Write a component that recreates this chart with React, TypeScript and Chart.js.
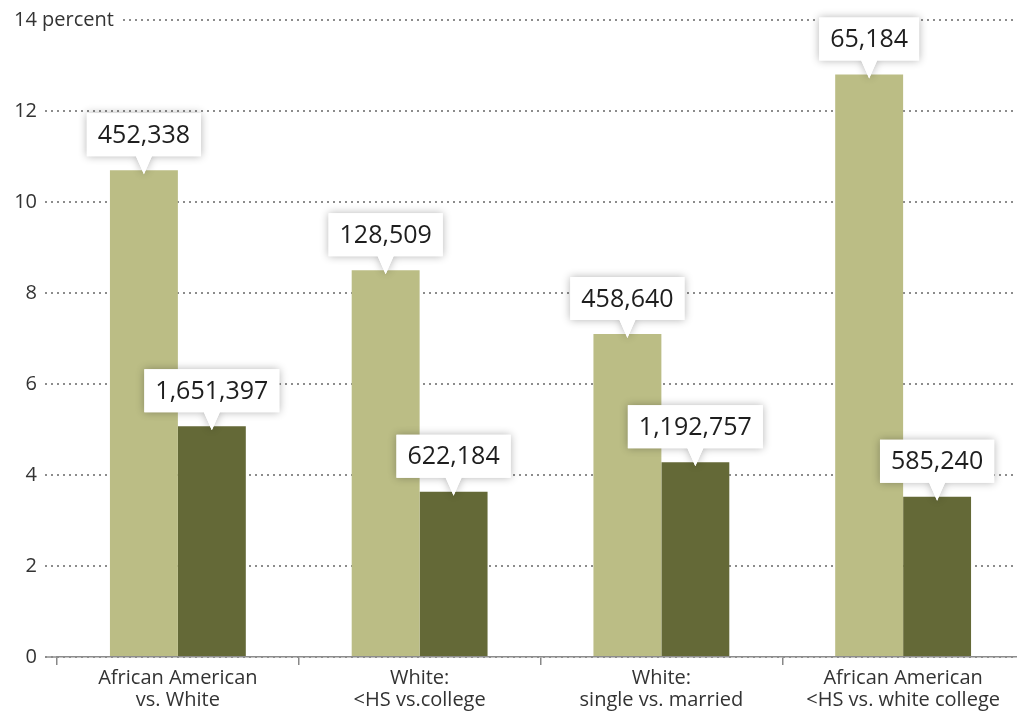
import React, { useEffect, useRef } from "react";
import { Chart, registerables } from "chart.js";

Chart.register(...registerables);

const categories: string[][] = [
  ["African American", "vs. White"],
  ["White:", "<HS vs.college"],
  ["White:", "single vs. married"],
  ["African American", "<HS vs. white college"],
];
const seriesA: number[] = [10.7, 8.5, 7.1, 12.8];
const seriesB: number[] = [5.07, 3.63, 4.28, 3.52];
const countsA: string[] = ["452,338", "128,509", "458,640", "65,184"];
const countsB: string[] = ["1,651,397", "622,184", "1,192,757", "585,240"];
const yTicks: number[] = [0, 2, 4, 6, 8, 10, 12, 14];
const topTickLabel = "14 percent";

const FONT = '"Open Sans", sans-serif';
const LIGHT = "#bbbd85";
const DARK = "#646937";
const GRID = "#8c8c8c";
const TEXT = "#333333";

const calloutPlugin = {
  id: "callouts",
  afterDatasetsDraw(chart: any) {
    const ctx = chart.ctx as CanvasRenderingContext2D;
    chart.data.datasets.forEach((_ds: any, i: number) => {
      const meta = chart.getDatasetMeta(i);
      const labels = i === 0 ? countsA : countsB;
      meta.data.forEach((bar: any, j: number) => {
        const x = bar.x;
        const top = bar.y;
        ctx.save();
        ctx.font = `25px ${FONT}`;
        const w = ctx.measureText(labels[j]).width + 22;
        const h = 43;
        const bottom = top - 14;
        const left = x - w / 2;
        ctx.beginPath();
        ctx.moveTo(left, bottom - h);
        ctx.lineTo(left + w, bottom - h);
        ctx.lineTo(left + w, bottom);
        ctx.lineTo(x + 8, bottom);
        ctx.lineTo(x, top + 4);
        ctx.lineTo(x - 8, bottom);
        ctx.lineTo(left, bottom);
        ctx.closePath();
        ctx.shadowColor = "rgba(0,0,0,0.3)";
        ctx.shadowBlur = 9;
        ctx.fillStyle = "#ffffff";
        ctx.fill();
        ctx.shadowColor = "transparent";
        ctx.shadowBlur = 0;
        ctx.fill();
        ctx.fillStyle = "#1e1e1e";
        ctx.textAlign = "center";
        ctx.textBaseline = "middle";
        ctx.fillText(labels[j], x, bottom - h / 2 + 1);
        ctx.restore();
      });
    });
  },
  afterDraw(chart: any) {
    const ctx = chart.ctx as CanvasRenderingContext2D;
    const y = chart.scales.y;
    const area = chart.chartArea;
    const y14 = y.getPixelForValue(14);
    const y0 = y.getPixelForValue(0);
    ctx.save();
    ctx.fillStyle = "#ffffff";
    ctx.fillRect(0, y14 - 12, 121, 24);
    ctx.font = `20px ${FONT}`;
    ctx.fillStyle = TEXT;
    ctx.textAlign = "left";
    ctx.textBaseline = "middle";
    ctx.fillText(topTickLabel, 14, y14);
    ctx.strokeStyle = GRID;
    ctx.lineWidth = 1.5;
    ctx.beginPath();
    ctx.moveTo(46, y0);
    ctx.lineTo(area.left, y0);
    ctx.stroke();
    ctx.restore();
  },
};

export default function App() {
  const ref = useRef<HTMLCanvasElement | null>(null);
  useEffect(() => {
    if (!ref.current) return;
    const chart = new Chart(ref.current, {
      type: "bar",
      data: {
        labels: categories,
        datasets: [
          { data: seriesA, backgroundColor: LIGHT, categoryPercentage: 0.562, barPercentage: 1 },
          { data: seriesB, backgroundColor: DARK, categoryPercentage: 0.562, barPercentage: 1 },
        ],
      },
      options: {
        responsive: false,
        animation: false,
        layout: { padding: { left: 0, right: 6, top: 19, bottom: 0 } },
        plugins: { legend: { display: false }, tooltip: { enabled: false } },
        scales: {
          x: {
            offset: true,
            grid: {
              offset: true,
              drawOnChartArea: false,
              drawTicks: true,
              tickLength: 8,
              color: "#888",
              lineWidth: 1.5,
            },
            border: { display: true, color: GRID, width: 1.5 },
            ticks: { color: TEXT, font: { family: FONT, size: 20, lineHeight: 1.12 }, padding: 2, maxRotation: 0 },
            afterFit: (s: any) => { s.height = 57; },
          },
          y: {
            min: 0,
            max: 14,
            afterBuildTicks: (s: any) => { s.ticks = yTicks.map((v) => ({ value: v })); },
            grid: {
              color: GRID,
              lineWidth: 2,
              tickLength: 12,
              tickBorderDash: [2, 4],
              tickColor: GRID,
              tickWidth: 2,
            },
            border: { display: false, dash: [2, 4] },
            ticks: {
              color: TEXT,
              font: { family: FONT, size: 20 },
              padding: 8,
              callback: (v: any) => (Number(v) === 14 ? "" : String(v)),
            },
            afterFit: (s: any) => { s.width = 57; },
          },
        },
      },
      plugins: [calloutPlugin],
    });
    return () => chart.destroy();
  }, []);
  return (
    <div style={{ position: "absolute", left: 0, top: 0, width: 1017, height: 714, overflow: "hidden", background: "#fff" }}>
      <canvas ref={ref} width={1030} height={714} style={{ display: "block" }} />
    </div>
  );
}
